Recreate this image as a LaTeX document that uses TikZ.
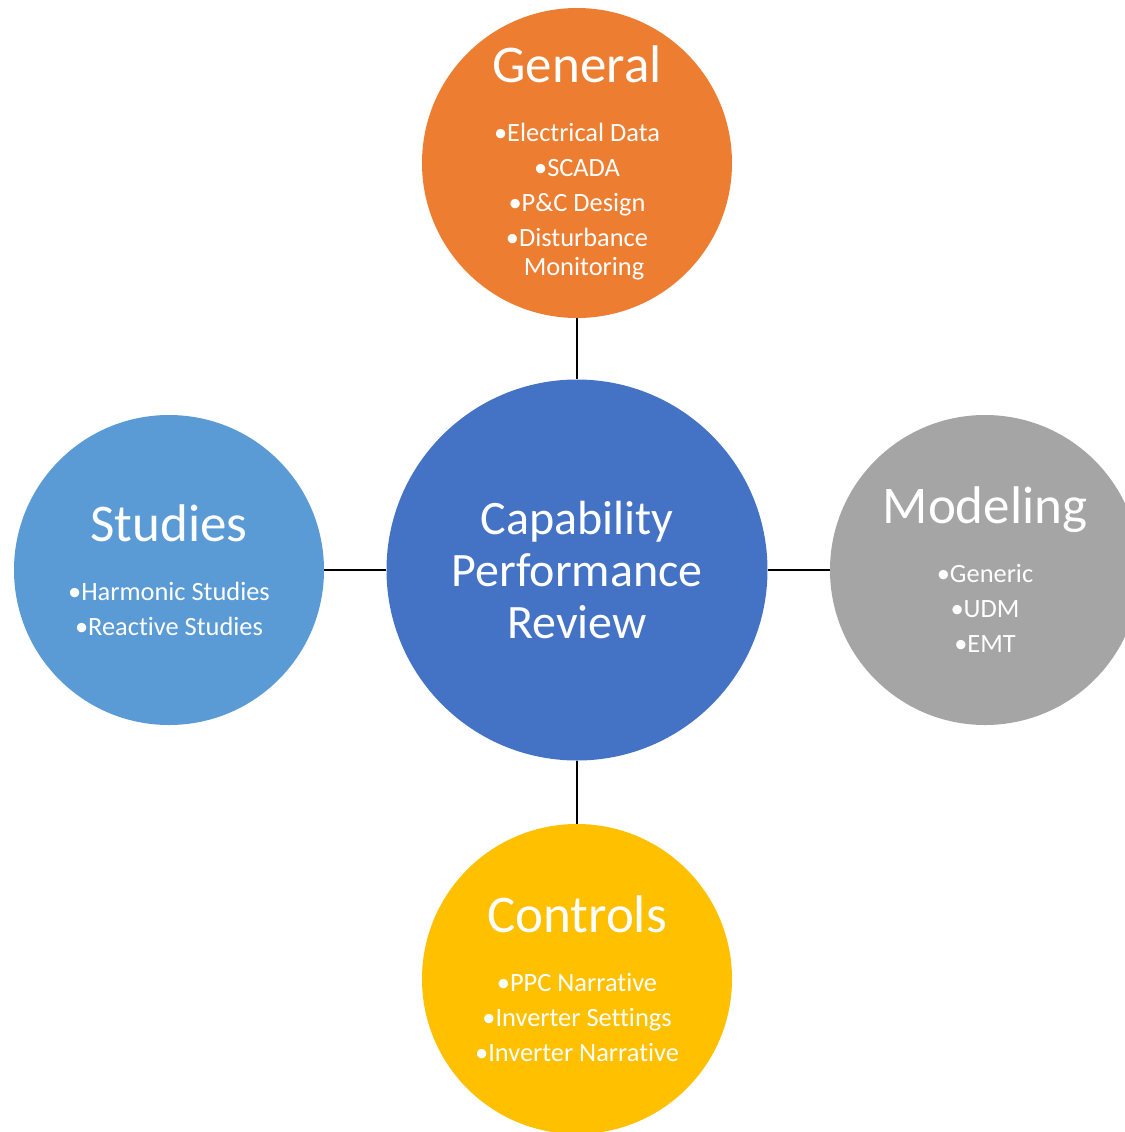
\documentclass[tikz,border=0pt]{standalone}
\usepackage{fontspec}
\setmainfont{Carlito}[Ligatures = NoCommon]
\usetikzlibrary{positioning}
\definecolor{hubblue}{HTML}{4472C4}
\definecolor{genorange}{HTML}{ED7D31}
\definecolor{studyblue}{HTML}{5B9BD5}
\definecolor{modelgray}{HTML}{A5A5A5}
\definecolor{ctrlgold}{HTML}{FFC000}
\tikzset{topic/.style = {circle, fill = #1, text = white, inner sep = 0,
                         minimum size = 155pt, align = center,
                         font = \fontsize{13.2}{14.5}\selectfont}}
\tikzset{hub/.style = {circle, fill = hubblue, text = white, inner sep = 0,
                       minimum size = 190.5pt, align = center,
                       font = \fontsize{24}{26}\selectfont}}
\tikzset{link/.style = {draw = black, line width = 1pt}}
\newcommand{\heading}[1]{{\fontsize{26.5}{26}\selectfont #1}}

\begin{document}
\begin{tikzpicture}[x = 0.5pt, y = -0.5pt]
    \useasboundingbox [fill = white] (0, 0) rectangle (1125, 1132);
    \node [hub] (hub) at (577, 570) {Capability\\Performance\\Review};
    \node [topic = genorange] (gen) at (577, 163)
      {\heading{General}\\[15pt]
       \textbullet Electrical Data\\[3pt]
       \textbullet SCADA\\[3pt]
       \textbullet P\&C Design\\[3pt]
       \textbullet Disturbance\\
       \hspace*{7pt}Monitoring};
    \node [topic = studyblue] (stud) at (169, 570)
      {\heading{Studies}\\[15pt]
       \textbullet Harmonic Studies\\[3pt]
       \textbullet Reactive Studies};
    \node [topic = modelgray] (model) at (985, 570)
      {\heading{Modeling}\\[15pt]
       \textbullet Generic\\[3pt]
       \textbullet UDM\\[3pt]
       \textbullet EMT};
    \node [topic = ctrlgold] (ctrl) at (577, 979)
      {\heading{Controls}\\[15pt]
       \textbullet PPC Narrative\\[3pt]
       \textbullet Inverter Settings\\[3pt]
       \textbullet Inverter Narrative};
    \draw [link] (gen) -- (hub);
    \draw [link] (stud) -- (hub);
    \draw [link] (hub) -- (model);
    \draw [link] (hub) -- (ctrl);
  \end{tikzpicture}
\end{document}
